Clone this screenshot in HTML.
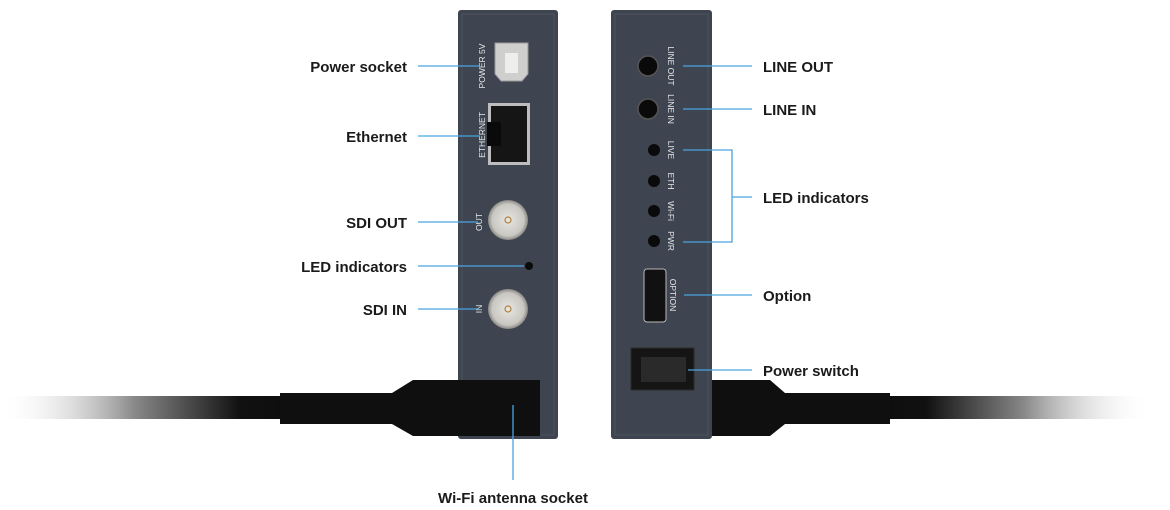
<!DOCTYPE html>
<html><head><meta charset="utf-8"><style>
html,body{margin:0;padding:0;background:#fff;}
svg{display:block}
text{font-family:"Liberation Sans",sans-serif;}
.lbl{font-size:15px;font-weight:bold;fill:#1a1a1a;}
.sm{font-size:8.5px;fill:#e6e8ea;}
.ln{stroke:#4aa3e0;stroke-width:1.3;fill:none;}
</style></head><body>
<svg width="1170" height="510" viewBox="0 0 1170 510" xmlns="http://www.w3.org/2000/svg">
<defs>
<linearGradient id="cl" x1="0" x2="1" y1="0" y2="0">
<stop offset="0" stop-color="#fff" stop-opacity="0"/>
<stop offset="0.45" stop-color="#888"/>
<stop offset="0.8" stop-color="#111"/>
<stop offset="1" stop-color="#0d0d0d"/>
</linearGradient>
<linearGradient id="cr" x1="1" x2="0" y1="0" y2="0">
<stop offset="0" stop-color="#fff" stop-opacity="0"/>
<stop offset="0.45" stop-color="#888"/>
<stop offset="0.8" stop-color="#111"/>
<stop offset="1" stop-color="#0d0d0d"/>
</linearGradient>
<radialGradient id="bnc"><stop offset="0" stop-color="#e8e6e0"/><stop offset="0.8" stop-color="#c9c7c2"/><stop offset="1" stop-color="#8a8884"/></radialGradient>
</defs>
<!-- devices -->
<rect x="458" y="10" width="100" height="429" rx="3" fill="#3e4550"/>
<rect x="462" y="14" width="92" height="421" fill="none" stroke="#4c535d" stroke-width="1"/>
<rect x="611" y="10" width="101" height="429" rx="3" fill="#3e4550"/>
<rect x="615" y="14" width="93" height="421" fill="none" stroke="#4c535d" stroke-width="1"/>

<!-- left cable -->
<rect x="0" y="396" width="300" height="23" fill="url(#cl)"/>
<path d="M280 393 L392 393 L413 380 L540 380 L540 436 L413 436 L392 424 L280 424 Z" fill="#0f0f0f"/>
<!-- right cable -->
<rect x="870" y="396" width="280" height="23" fill="url(#cr)"/>
<path d="M712 380 L770 380 L785 393 L890 393 L890 424 L785 424 L770 436 L712 436 Z" fill="#0f0f0f"/>

<!-- left ports -->
<text class="sm" transform="translate(485,66) rotate(-90)" text-anchor="middle" font-size="10">POWER 5V</text>
<path d="M495 43 H528 V74 L522 81 H501 L495 74 Z" fill="#cfcfcd" stroke="#999"/>
<rect x="505" y="53" width="13" height="20" fill="#eee"/>
<text class="sm" transform="translate(485,135) rotate(-90)" text-anchor="middle" font-size="10">ETHERNET</text>
<rect x="488" y="103" width="42" height="62" fill="#bdbdbd"/>
<rect x="491" y="106" width="36" height="56" fill="#151515"/>
<rect x="487" y="122" width="14" height="24" fill="#0a0a0a"/>
<text class="sm" transform="translate(482,222) rotate(-90)" text-anchor="middle" font-size="10">OUT</text>
<circle cx="508" cy="220" r="20" fill="url(#bnc)"/>
<circle cx="508" cy="220" r="3" fill="none" stroke="#b08040" stroke-width="1.2"/>
<circle cx="529" cy="266" r="4" fill="#0a0a0a"/>
<text class="sm" transform="translate(482,309) rotate(-90)" text-anchor="middle" font-size="10">IN</text>
<circle cx="508" cy="309" r="20" fill="url(#bnc)"/>
<circle cx="508" cy="309" r="3" fill="none" stroke="#b08040" stroke-width="1.2"/>

<!-- right ports -->
<circle cx="648" cy="66" r="10" fill="#0a0a0a" stroke="#555" stroke-width="1.5"/>
<circle cx="648" cy="109" r="10" fill="#0a0a0a" stroke="#555" stroke-width="1.5"/>
<text class="sm" transform="translate(668,66) rotate(90)" text-anchor="middle">LINE OUT</text>
<text class="sm" transform="translate(668,109) rotate(90)" text-anchor="middle">LINE IN</text>
<circle cx="654" cy="150" r="6" fill="#0a0a0a"/>
<circle cx="654" cy="181" r="6" fill="#0a0a0a"/>
<circle cx="654" cy="211" r="6" fill="#0a0a0a"/>
<circle cx="654" cy="241" r="6" fill="#0a0a0a"/>
<text class="sm" transform="translate(668,150) rotate(90)" text-anchor="middle">LIVE</text>
<text class="sm" transform="translate(668,181) rotate(90)" text-anchor="middle">ETH</text>
<text class="sm" transform="translate(668,211) rotate(90)" text-anchor="middle">Wi-Fi</text>
<text class="sm" transform="translate(668,241) rotate(90)" text-anchor="middle">PWR</text>
<rect x="644" y="269" width="22" height="53" rx="3" fill="#111" stroke="#bbb" stroke-width="1"/>
<text class="sm" transform="translate(670,295) rotate(90)" text-anchor="middle">OPTION</text>
<rect x="631" y="348" width="63" height="42" fill="#151515" stroke="#2a2a2a"/>
<rect x="641" y="357" width="45" height="25" fill="#2a2a2a"/>

<!-- left labels -->
<path class="ln" d="M418 66 H480 M418 136 H480 M418 222 H478 M418 266 H524 M418 309 H478 M513 405 V480"/>
<text class="lbl" x="407" y="72" text-anchor="end">Power socket</text>
<text class="lbl" x="407" y="142" text-anchor="end">Ethernet</text>
<text class="lbl" x="407" y="228" text-anchor="end">SDI OUT</text>
<text class="lbl" x="407" y="272" text-anchor="end">LED indicators</text>
<text class="lbl" x="407" y="315" text-anchor="end">SDI IN</text>
<text class="lbl" x="513" y="503" text-anchor="middle">Wi-Fi antenna socket</text>

<!-- right labels -->
<path class="ln" d="M683 66 H752 M683 109 H752 M683 150 H732 V242 H683 M732 197 H752 M684 295 H752 M688 370 H752"/>
<text class="lbl" x="763" y="72">LINE OUT</text>
<text class="lbl" x="763" y="115">LINE IN</text>
<text class="lbl" x="763" y="203">LED indicators</text>
<text class="lbl" x="763" y="301">Option</text>
<text class="lbl" x="763" y="376">Power switch</text>
</svg>
</body></html>
